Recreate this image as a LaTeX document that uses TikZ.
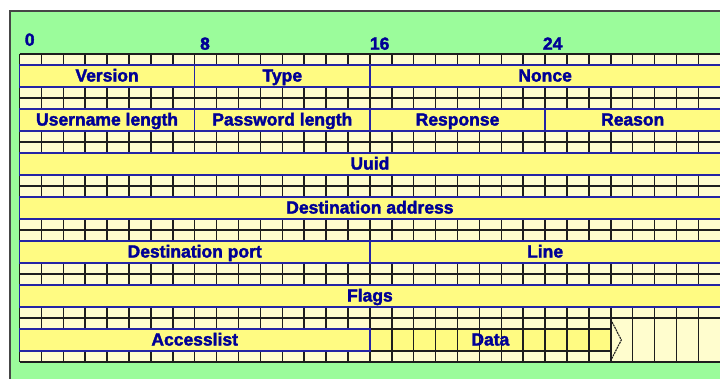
\documentclass[tikz,border=0pt]{standalone}
\usepackage{fontspec}
\setmainfont{Liberation Sans}
\newfontfamily\lblfont{Liberation Sans Bold}[FakeBold=2]
\definecolor{bggreen}{RGB}{155,252,155}
\definecolor{fieldyellow}{RGB}{255,251,130}
\definecolor{tickyellow}{RGB}{255,253,206}
\definecolor{edgeblue}{RGB}{36,36,165}
\definecolor{labelblue}{RGB}{0,0,150}
\definecolor{framegray}{RGB}{70,70,70}
\definecolor{tickgray}{RGB}{30,30,30}

% one field of a 32-bit word: word index, first bit, last bit, node name, label
\newcommand\pktfield[5]{%
  \pgfmathsetmacro\fa{19.5+21.9*#2}%
  \pgfmathsetmacro\fb{19.5+21.9*#3}%
  \pgfmathsetmacro\ft{54+44*#1+11}%
  \draw[fieldbox] (\fa,\ft) rectangle (\fb,\ft+22);
  \node[lbl] (#4) at ({(\fa+\fb)/2},\ft+16.5) {#5};
}

\begin{document}
\begin{tikzpicture}[x=1pt,y=-1pt,
  lbl/.style={font=\lblfont\fontsize{17.5}{18}\selectfont, text=labelblue, inner sep=0pt, anchor=base},
  fieldbox/.style={fill=fieldyellow, draw=edgeblue, line width=1.5pt},
  tickline/.style={draw=tickgray, line width=1.5pt},
  chevron/.style={draw=tickgray, line width=1.1pt, dash pattern=on 2pt off 0.8pt}]

\useasboundingbox (0,0) rectangle (720,378);
\clip (0,0) rectangle (720,378);
\fill[white] (0,0) rectangle (720,378);

% green panel
\draw[fill=bggreen, draw=framegray, line width=2pt] (9.5,10.5) rectangle (740,400);

% bit numbers
\node[lbl] (b0)  at (29.7,45.7) {0};
\node[lbl] (b8)  at (205,49.7) {8};
\node[lbl] (b16) at (379.7,49.7) {16};
\node[lbl] (b24) at (552.7,49.7) {24};

% words 0..5: tick rows above and below each field row
\foreach \w in {0,...,5} {
  \pgfmathsetmacro\wt{54+44*\w}
  \fill[tickyellow] (19.5,\wt) rectangle (722,\wt+44);
  \foreach \b in {0,...,32} {
    \draw[tickline] ({19.5+21.9*\b},\wt) -- ++(0,11) ({19.5+21.9*\b},\wt+33) -- ++(0,11);
  }
  \draw[tickline] (19.5,\wt) -- (722,\wt) (19.5,\wt+44) -- (722,\wt+44);
}

% word 6: accesslist plus variable-length data
\pgfmathsetmacro\wt{54+44*6}
\fill[tickyellow] (19.5,\wt) rectangle (722,\wt+44);
\fill[fieldyellow] ({19.5+21.9*16},\wt+11) rectangle ({19.5+21.9*27},\wt+33);
\foreach \b in {0,...,15} {
  \draw[tickline] ({19.5+21.9*\b},\wt) -- ++(0,11) ({19.5+21.9*\b},\wt+33) -- ++(0,11);
}
\foreach \b in {16,...,32} {
  \draw[tickline] ({19.5+21.9*\b},\wt) -- ++(0,44);
}
\draw[tickline] (19.5,\wt) -- (722,\wt) (19.5,\wt+44) -- (722,\wt+44)
  ({19.5+21.9*16},\wt+11) -- ({19.5+21.9*27},\wt+11)
  ({19.5+21.9*16},\wt+33) -- ({19.5+21.9*27},\wt+33);
\draw[chevron] ({19.5+21.9*27},\wt+1.5) -- ({19.5+21.9*27+10.5},\wt+22) -- ({19.5+21.9*27},\wt+42.5);

% fields
\pktfield{0}{0}{8}{version}{Version}
\pktfield{0}{8}{16}{type}{Type}
\pktfield{0}{16}{32}{nonce}{Nonce}
\pktfield{1}{0}{8}{userlen}{Username length}
\pktfield{1}{8}{16}{passlen}{Password length}
\pktfield{1}{16}{24}{response}{Response}
\pktfield{1}{24}{32}{reason}{Reason}
\pktfield{2}{0}{32}{uuid}{Uuid}
\pktfield{3}{0}{32}{destaddr}{Destination address}
\pktfield{4}{0}{16}{destport}{Destination port}
\pktfield{4}{16}{32}{line}{Line}
\pktfield{5}{0}{32}{flags}{Flags}
\pktfield{6}{0}{16}{accesslist}{Accesslist}
\node[lbl] (data) at ({19.5+21.9*21.5},\wt+27.5) {Data};

\end{tikzpicture}
\end{document}
